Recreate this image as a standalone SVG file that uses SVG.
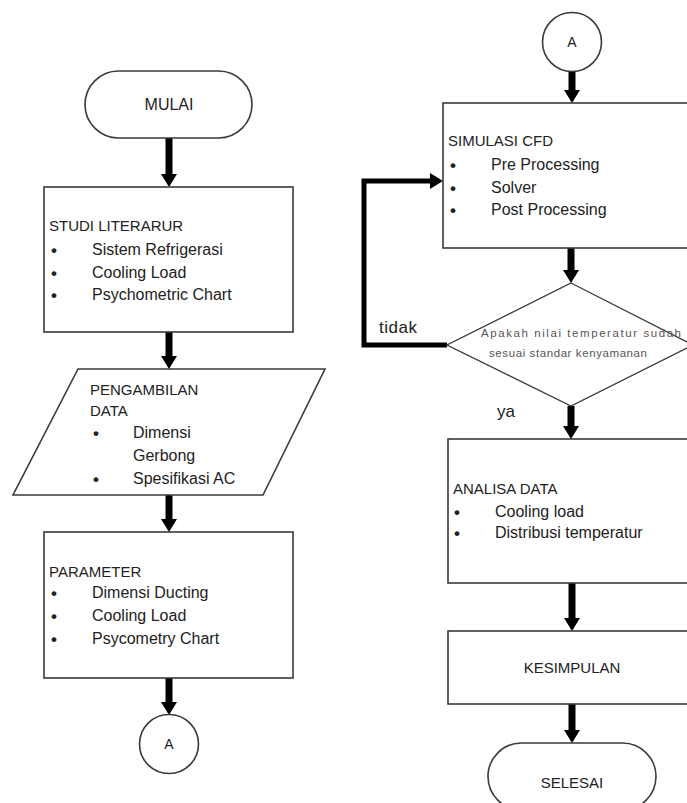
<svg xmlns="http://www.w3.org/2000/svg" width="687" height="803" viewBox="0 0 687 803">
<defs>
<style>
.shape{fill:#fff;stroke:#3a3a3a;stroke-width:1.6}
.t{font-family:"Liberation Sans",Arial,sans-serif;font-size:15px;fill:#222}
.i{font-size:16px}
.b{font-size:17px;font-weight:bold}
.lbl{font-size:17px}
.c{text-anchor:middle}
.d{font-family:"Liberation Sans",Arial,sans-serif;font-size:11.5px;fill:#555;text-anchor:middle}
.arr{stroke:#000;stroke-width:7;fill:none;marker-end:url(#ah)}
.loop{stroke:#000;stroke-width:5;fill:none;stroke-linejoin:miter;marker-end:url(#ah)}
</style>
<marker id="ah" markerUnits="userSpaceOnUse" viewBox="0 0 13 16" markerWidth="13" markerHeight="16" refX="0" refY="8" orient="auto">
<path d="M0,0 L13,8 L0,16 z" fill="#000"/>
</marker>
</defs>
<rect width="687" height="803" fill="#fff"/>

<g id="connectors">
<line class="arr" x1="169" y1="138" x2="169" y2="174"/>
<line class="arr" x1="169" y1="332" x2="169" y2="356"/>
<line class="arr" x1="169" y1="495" x2="169" y2="519"/>
<line class="arr" x1="169" y1="678" x2="169" y2="702"/>
<line class="arr" x1="572" y1="71" x2="572" y2="90"/>
<line class="arr" x1="571" y1="248" x2="571" y2="270"/>
<line class="arr" x1="571" y1="406" x2="571" y2="426"/>
<line class="arr" x1="572" y1="583" x2="572" y2="618"/>
<line class="arr" x1="572" y1="704" x2="572" y2="730"/>
<polyline class="loop" points="447,345 364,345 364,181 430,181"/>
<text class="t lbl" x="379" y="333" style="letter-spacing:0.5px">tidak</text>
<text class="t lbl" x="497" y="417">ya</text>
</g>

<g id="mulai">
<rect class="shape" x="85" y="71" width="167" height="67" rx="33.5"/>
<text class="t c" x="169" y="110" style="font-size:16px">MULAI</text>
</g>

<g id="studi">
<rect class="shape" x="44" y="187" width="249" height="145"/>
<text class="t" x="49" y="231">STUDI LITERARUR</text>
<text class="t b" x="51" y="256">•</text><text class="t i" x="92" y="255">Sistem Refrigerasi</text>
<text class="t b" x="51" y="279">•</text><text class="t i" x="92" y="278">Cooling Load</text>
<text class="t b" x="51" y="301">•</text><text class="t i" x="92" y="300">Psychometric Chart</text>
</g>

<g id="pengambilan">
<polygon class="shape" points="78,369 325,369 263,495 13,495"/>
<text class="t" x="90" y="395">PENGAMBILAN</text>
<text class="t" x="90" y="416">DATA</text>
<text class="t b" x="93" y="439">•</text><text class="t i" x="133" y="438">Dimensi</text>
<text class="t i" x="133" y="461">Gerbong</text>
<text class="t b" x="93" y="485">•</text><text class="t i" x="133" y="484">Spesifikasi AC</text>
</g>

<g id="parameter">
<rect class="shape" x="44" y="532" width="249" height="146"/>
<text class="t" x="49" y="577">PARAMETER</text>
<text class="t b" x="51" y="599">•</text><text class="t i" x="92" y="598">Dimensi Ducting</text>
<text class="t b" x="51" y="622">•</text><text class="t i" x="92" y="621">Cooling Load</text>
<text class="t b" x="51" y="645">•</text><text class="t i" x="92" y="644">Psycometry Chart</text>
</g>

<g id="connector-a-out">
<circle class="shape" cx="169" cy="744" r="29.5"/>
<text class="t c" x="169" y="749" style="font-size:14px">A</text>
</g>

<g id="connector-a-in">
<circle class="shape" cx="572" cy="42" r="29.5"/>
<text class="t c" x="572" y="47" style="font-size:14px">A</text>
</g>

<g id="simulasi">
<rect class="shape" x="443" y="103" width="260" height="145"/>
<text class="t" x="448" y="146">SIMULASI CFD</text>
<text class="t b" x="450" y="171">•</text><text class="t i" x="491" y="170">Pre Processing</text>
<text class="t b" x="450" y="194">•</text><text class="t i" x="491" y="193">Solver</text>
<text class="t b" x="450" y="216">•</text><text class="t i" x="491" y="215">Post Processing</text>
</g>

<g id="keputusan">
<polygon class="shape" points="571,283 693,345 571,406 447,345" style="stroke-width:1.3"/>
<text class="d" x="581" y="337" textLength="200" lengthAdjust="spacing">Apakah nilai temperatur sudah</text>
<text class="d" x="568" y="357" textLength="158" lengthAdjust="spacing">sesuai standar kenyamanan</text>
</g>

<g id="analisa">
<rect class="shape" x="448" y="439" width="255" height="144"/>
<text class="t" x="453" y="494">ANALISA DATA</text>
<text class="t b" x="454" y="518">•</text><text class="t i" x="495" y="517">Cooling load</text>
<text class="t b" x="454" y="539">•</text><text class="t i" x="495" y="538">Distribusi temperatur</text>
</g>

<g id="kesimpulan">
<rect class="shape" x="448" y="631" width="255" height="73"/>
<text class="t c" x="572" y="673">KESIMPULAN</text>
</g>

<g id="selesai">
<rect class="shape" x="488" y="743" width="168" height="67" rx="33.5"/>
<text class="t c" x="572" y="788">SELESAI</text>
</g>
</svg>
